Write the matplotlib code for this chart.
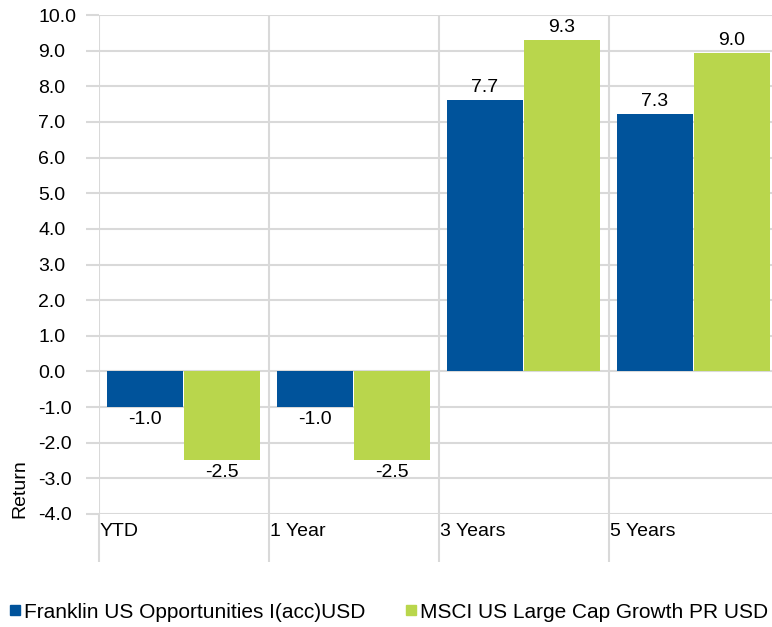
import matplotlib
matplotlib.use("Agg")
import matplotlib.pyplot as plt
from matplotlib.lines import Line2D

plt.rcParams['font.family'] = ['Liberation Sans', 'DejaVu Sans']

categories = ["YTD", "1 Year", "3 Years", "5 Years"]
series_names = ["Franklin US Opportunities I(acc)USD", "MSCI US Large Cap Growth PR USD"]
fund_values = [-1.0, -1.0, 7.62, 7.22]
bench_values = [-2.48, -2.48, 9.30, 8.92]
fund_labels = ["-1.0", "-1.0", "7.7", "7.3"]
bench_labels = ["-2.5", "-2.5", "9.3", "9.0"]
yticks = [-4, -3, -2, -1, 0, 1, 2, 3, 4, 5, 6, 7, 8, 9, 10]

BLUE = "#00539b"
GREEN = "#b9d64c"
GRID = "#d9d9d9"
W, H = 772, 627
DPI = 100
PT = 72 / DPI

fig = plt.figure(figsize=(W / DPI, H / DPI), dpi=DPI)
ax = fig.add_axes([99 / W, 1 - 514 / H, 1 - 99 / W, (514 - 15) / H])

x = list(range(len(categories)))
bw = 0.447
b1 = ax.bar([i + 0.047 for i in x], fund_values, width=bw, align='edge', color=BLUE, zorder=3)
b2 = ax.bar([i + 0.5 for i in x], bench_values, width=bw, align='edge', color=GREEN, zorder=3)
ax.bar_label(b1, labels=fund_labels, padding=3, fontsize=14)
ax.bar_label(b2, labels=bench_labels, padding=3, fontsize=14)

ax.set_ylim(-4, 10)
ax.set_xlim(0, (W - 99) / 170)
ax.set_yticks(yticks)
ax.set_yticklabels([f"{v:.1f}" for v in yticks], fontsize=14)
ax.set_xticks(x)
ax.set_xticklabels([])
for s in ax.spines.values():
    s.set_visible(False)
ax.grid(True, color=GRID, linewidth=1.5, zorder=0)
ax.tick_params(axis='y', length=13 * PT, width=1.5, color=GRID, pad=(99 - 13 - 38) * PT)
for lab in ax.get_yticklabels():
    lab.set_horizontalalignment('left')
ax.tick_params(axis='x', length=48 * PT, width=1.5, color=GRID)
ax.set_axisbelow(True)

for i, c in enumerate(categories):
    ax.annotate(c, xy=(i, -4), xycoords='data', xytext=(1, -18), textcoords='offset pixels',
                ha='left', va='center', fontsize=14)

fig.text(20 / W, 1 - 489 / H, "Return", rotation=90, ha='center', va='center', fontsize=14)

handles = [Line2D([], [], marker='s', linestyle='none', color=BLUE, markersize=7.2),
           Line2D([], [], marker='s', linestyle='none', color=GREEN, markersize=7.2)]
fig.legend(handles, series_names, loc='center left', bbox_to_anchor=(9 / W, 1 - 612 / H),
           ncol=2, frameon=False, fontsize=15, handlelength=0.6, handletextpad=0.12,
           columnspacing=1.9, borderaxespad=0, borderpad=0)

fig.savefig("out.png", dpi=DPI)
